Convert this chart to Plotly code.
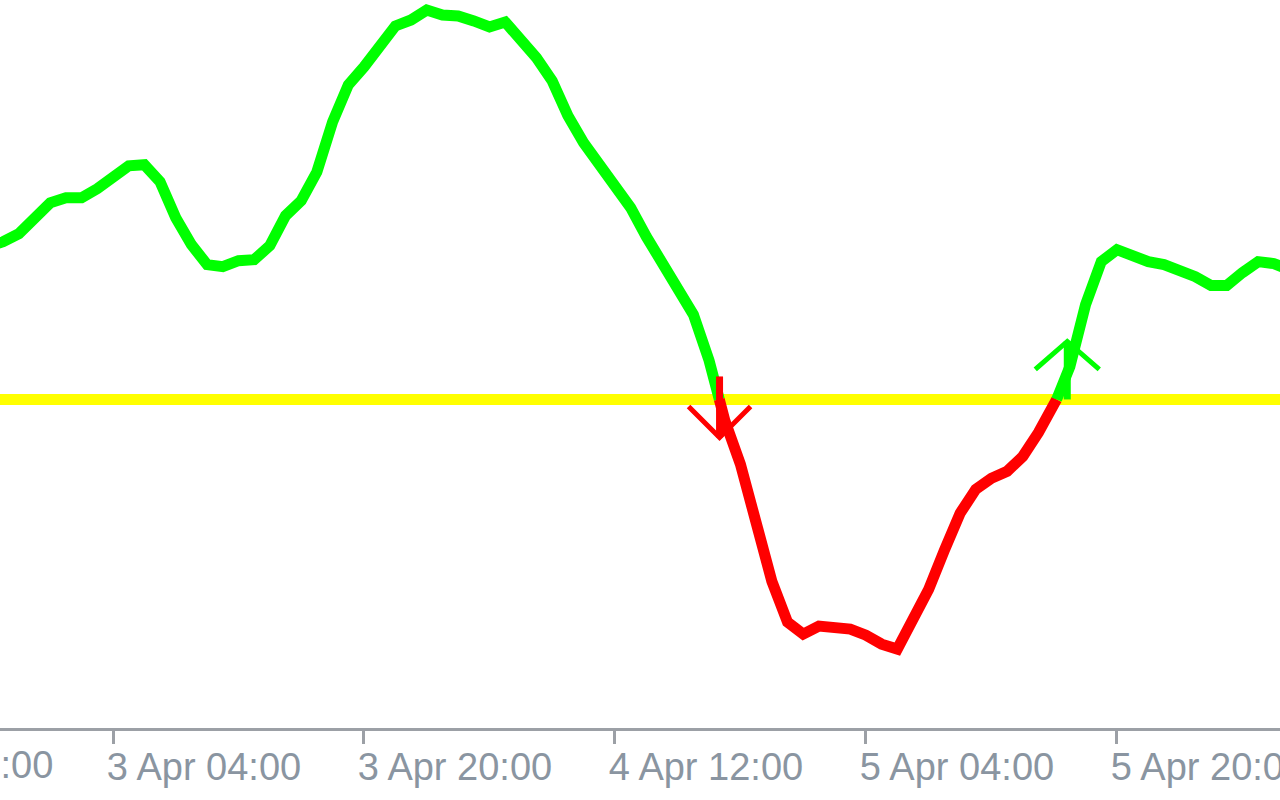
import numpy as np
import pandas as pd
import plotly.graph_objects as go

# ---------------- data ----------------
start_time = "2023-04-02 20:00"          # first hourly bar
indicator_values = [
    38.25, 39.5, 41.5, 45.75, 49.25, 50.5, 50.5, 52.75,      # 2 Apr 20:00 .. 3 Apr 03:00
    55.5, 58.5, 58.75, 54.5, 45.5, 38.75, 33.75, 33.25,      # 3 Apr 04:00 ..
    34.75, 35.0, 38.5, 46.0, 49.75, 57.0, 69.5, 78.75,
    83.25, 88.75, 93.5, 95.0, 97.5, 96.25, 96.0, 94.75,      # 3 Apr 20:00 ..
    93.25, 94.5, 90.25, 85.5, 79.75, 71.0, 64.25, 58.5,
    53.75, 48.0, 40.75, 34.25, 28.75, 21.25, 9.75, -5.25,    # 4 Apr 12:00 ..
    -16.25, -31.5, -45.5, -55.75, -58.75, -56.75, -57.0, -57.5,
    -59.0, -61.25, -62.5, -54.5, -47.5, -37.75, -28.5, -22.5,  # 5 Apr 04:00 ..
    -19.75, -18.0, -14.25, -8.25, -1.5, 8.25, 23.75, 34.5,
    37.5, 36.0, 34.5, 33.75, 32.5, 30.75, 28.5, 28.5,        # 5 Apr 20:00 ..
    31.75, 34.5, 34.0, 32.5,
]
signal_level = 0.0
sell_signal_times = ["2023-04-04 18:40"]
buy_signal_times = ["2023-04-05 16:50"]

tick_start = "2023-04-02 12:00"
tick_count = 6
tick_step_hours = 16
view_start = "2023-04-02 20:47:48"
view_end = "2023-04-06 06:23:40"
value_range = [-82.25, 100.0]

# ---------------- styles ----------------
GREEN = "#00ff00"
RED = "#ff0000"
YELLOW = "#ffff00"
AXIS_GREY = "#9ca0a6"
TEXT_GREY = "#8a95a1"
FONT = dict(family="Liberation Sans, Arial, sans-serif", size=38, color=TEXT_GREY)
LINE_W = 11

times = pd.date_range(start_time, periods=len(indicator_values), freq="h")
vals = np.array(indicator_values, dtype=float)


def split_runs(t, v, level):
    """split series into runs above / below level, joined at interpolated crossings"""
    runs = []
    cur_t, cur_v = [t[0]], [v[0]]
    cur_up = v[0] >= level
    for i in range(1, len(v)):
        up = v[i] >= level
        if up != cur_up:
            frac = (level - v[i - 1]) / (v[i] - v[i - 1])
            tc = t[i - 1] + (t[i] - t[i - 1]) * frac
            cur_t.append(tc)
            cur_v.append(level)
            runs.append((cur_up, cur_t, cur_v))
            cur_t, cur_v = [tc, t[i]], [level, v[i]]
            cur_up = up
        else:
            cur_t.append(t[i])
            cur_v.append(v[i])
    runs.append((cur_up, cur_t, cur_v))
    return runs


fig = go.Figure()

for up, rt, rv in split_runs(list(times), vals, signal_level):
    fig.add_trace(go.Scatter(
        x=rt, y=rv, mode="lines",
        line=dict(color=GREEN if up else RED, width=LINE_W),
        showlegend=False, hoverinfo="skip",
    ))

# signal level line
fig.add_shape(type="line", xref="paper", x0=0, x1=1, yref="y",
              y0=signal_level, y1=signal_level,
              line=dict(color=YELLOW, width=11), layer="below")

# arrows (pixel-sized paths anchored at the signal bar / level)
for t in sell_signal_times:
    fig.add_shape(type="path", xref="x", yref="y", xsizemode="pixel", ysizemode="pixel",
                  xanchor=t, yanchor=signal_level,
                  path="M0,23 L0,-38", line=dict(color=RED, width=7))
    fig.add_shape(type="path", xref="x", yref="y", xsizemode="pixel", ysizemode="pixel",
                  xanchor=t, yanchor=signal_level,
                  path="M-31,-7 L0,-38 L31,-7", line=dict(color=RED, width=5))
for t in buy_signal_times:
    fig.add_shape(type="path", xref="x", yref="y", xsizemode="pixel", ysizemode="pixel",
                  xanchor=t, yanchor=signal_level,
                  path="M0,0 L0,58", line=dict(color=GREEN, width=7))
    fig.add_shape(type="path", xref="x", yref="y", xsizemode="pixel", ysizemode="pixel",
                  xanchor=t, yanchor=signal_level,
                  path="M-32,30 L0,58 L32,30", line=dict(color=GREEN, width=5))

tick_times = pd.date_range(tick_start, periods=tick_count, freq=f"{tick_step_hours}h")
v0, v1 = pd.Timestamp(view_start), pd.Timestamp(view_end)

fig.update_xaxes(
    type="date", range=[v0, v1],
    tickvals=list(tick_times), tickformat="%-d %b %H:%M",
    ticks="outside", ticklen=13, tickwidth=3, tickcolor=AXIS_GREY,
    showline=True, linecolor=AXIS_GREY, linewidth=3,
    showgrid=False, zeroline=False, automargin=False,
    tickfont=FONT, ticklabelshift=91, ticklabelstandoff=-10,
    ticklabeloverflow="allow",
)
fig.update_yaxes(range=value_range, visible=False, showgrid=False, zeroline=False)

# labels whose tick lies left of the visible window (only its tail shows)
for t in tick_times:
    if t < v0:
        fig.add_annotation(
            xref="paper", yref="paper",
            x=(t - v0) / (v1 - v0), y=0, xanchor="left", yanchor="top",
            xshift=-5, yshift=-14, showarrow=False,
            text=t.strftime("%-d %b %H:%M"), font=FONT,
        )

fig.update_layout(
    width=1280, height=800, autosize=False,
    margin=dict(l=0, r=0, t=0, b=72, autoexpand=False),
    paper_bgcolor="white", plot_bgcolor="white",
    showlegend=False,
)

fig.write_html(
    "out.html",
    config={"responsive": False, "displayModeBar": False},
    post_script=(
        "document.body.style.margin='0';"
        "document.body.style.overflow='hidden';"
        "Plotly.relayout(document.getElementById('{plot_id}'), {width:1280, height:800});"
    ),
)
